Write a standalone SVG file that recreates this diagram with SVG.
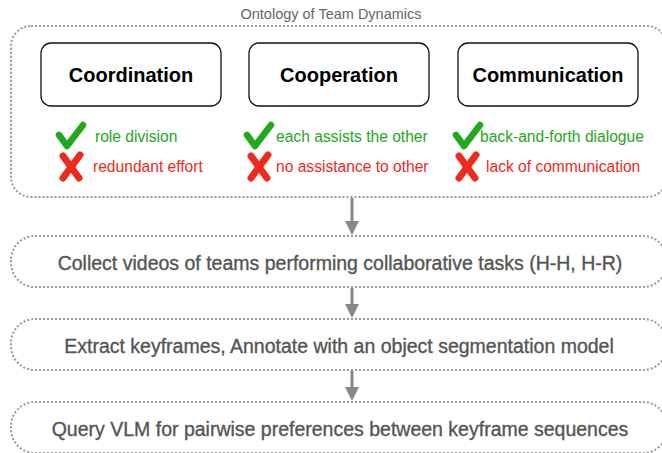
<svg xmlns="http://www.w3.org/2000/svg" width="662" height="453" viewBox="0 0 662 453">
<style>
.dot{fill:none;stroke:#999;stroke-width:2;stroke-dasharray:2 2}
.box{fill:#fff;stroke:#111;stroke-width:1.3}
.lbl{font-family:"Liberation Sans",Arial,sans-serif;font-size:20px;font-weight:bold;fill:#000;text-anchor:middle}
.step{font-family:"Liberation Sans",Arial,sans-serif;font-size:19.5px;fill:#555;stroke:#555;stroke-width:0.35;text-anchor:middle}
.title{font-family:"Liberation Sans",Arial,sans-serif;font-size:14.5px;fill:#666;text-anchor:middle}
.good{font-family:"Liberation Sans",Arial,sans-serif;font-size:15.6px;fill:#22a81c}
.bad{font-family:"Liberation Sans",Arial,sans-serif;font-size:15.6px;fill:#ee2a1c}
.chk{fill:none;stroke:#22a81c;stroke-width:6.5;stroke-linecap:round;stroke-linejoin:round}
.crs{fill:none;stroke:#ee2a1c;stroke-width:7;stroke-linecap:round}
.conn{stroke:#888;stroke-width:3;fill:none}
.head{fill:#888}
</style>
<defs>
<g id="check"><path class="chk" d="M3 12 L11 23 L27 2"/></g>
<g id="cross"><path class="crs" d="M3 3 L19 25 M20 2 L3 25"/></g>
</defs>

<g id="ontology">
<text class="title" x="331" y="19">Ontology of Team Dynamics</text>
<rect class="dot" x="11" y="26" width="656" height="171" rx="20"/>
</g>

<g id="coordination">
<rect class="box" x="41" y="43" width="180" height="63" rx="10"/>
<text class="lbl" x="131" y="82">Coordination</text>
<use href="#check" x="56" y="123"/>
<text class="good" x="95" y="142">role division</text>
<use href="#cross" x="60" y="153"/>
<text class="bad" x="93" y="172">redundant effort</text>
</g>

<g id="cooperation">
<rect class="box" x="249" y="43" width="180" height="63" rx="10"/>
<text class="lbl" x="339" y="82">Cooperation</text>
<use href="#check" x="244" y="123"/>
<text class="good" x="276" y="142">each assists the other</text>
<use href="#cross" x="248" y="153"/>
<text class="bad" x="276" y="172">no assistance to other</text>
</g>

<g id="communication">
<rect class="box" x="458" y="43" width="180" height="63" rx="10"/>
<text class="lbl" x="548" y="82">Communication</text>
<use href="#check" x="453" y="123"/>
<text class="good" x="480" y="142">back-and-forth dialogue</text>
<use href="#cross" x="456" y="153"/>
<text class="bad" x="486" y="172">lack of communication</text>
</g>

<g id="collect">
<rect class="dot" x="11" y="236" width="656" height="51" rx="24"/>
<text class="step" x="340" y="270">Collect videos of teams performing collaborative tasks (H-H, H-R)</text>
</g>

<g id="extract">
<rect class="dot" x="11" y="319" width="656" height="51" rx="24"/>
<text class="step" x="339" y="353">Extract keyframes, Annotate with an object segmentation model</text>
</g>

<g id="query">
<rect class="dot" x="11" y="402" width="656" height="51" rx="24"/>
<text class="step" x="340" y="436">Query VLM for pairwise preferences between keyframe sequences</text>
</g>

<g id="connectors">
<line class="conn" x1="352" y1="198" x2="352" y2="222"/>
<path class="head" d="M345 221 L359 221 L352 235 Z"/>
<line class="conn" x1="352" y1="288" x2="352" y2="305"/>
<path class="head" d="M345 304 L359 304 L352 318 Z"/>
<line class="conn" x1="352" y1="371" x2="352" y2="388"/>
<path class="head" d="M345 387 L359 387 L352 401 Z"/>
</g>
</svg>
